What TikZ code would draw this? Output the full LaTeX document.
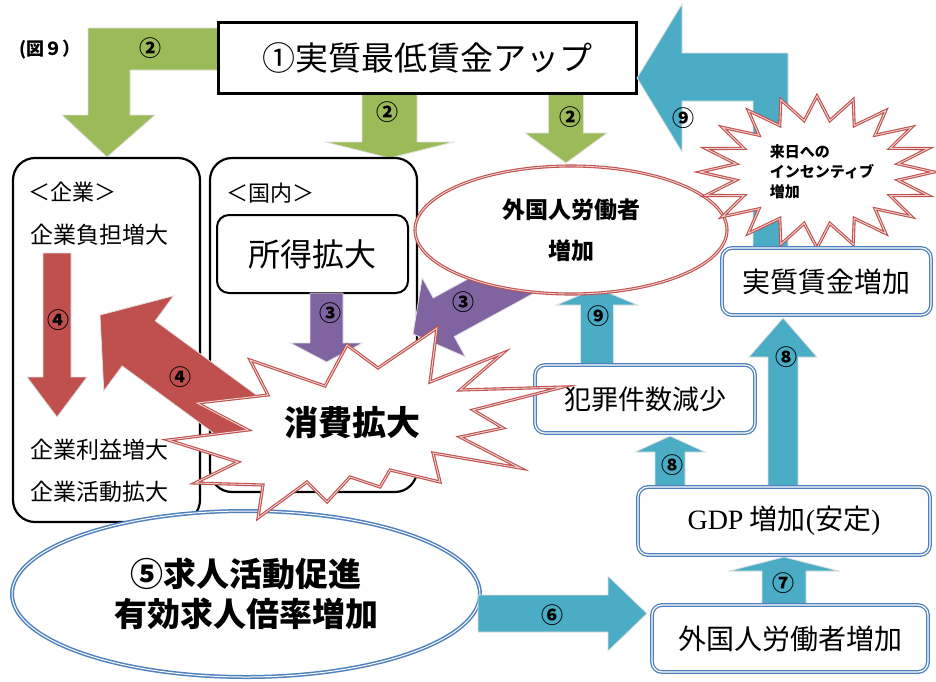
\documentclass[tikz,border=0pt]{standalone}
\usepackage{fontspec}
\setmainfont{Noto Sans CJK JP}
\newfontfamily\timesf{Liberation Serif}
\usetikzlibrary{shapes.geometric,calc}
\definecolor{wgreen}{RGB}{155,187,89}
\definecolor{wblue}{RGB}{75,172,198}
\definecolor{wred}{RGB}{192,80,77}
\definecolor{wpurple}{RGB}{128,100,162}
\definecolor{wborder}{RGB}{79,129,189}
\newcommand\fs[1]{\fontsize{#1}{#1}\selectfont}
% #1 style, #2 tail, #3 tip, #4 shaft half width, #5 head half width, #6 head length
\newcommand\blockarr[6]{%
  \coordinate (bah) at ($(#3)!#6!(#2)$);
  \filldraw[#1] ($(#2)!#4!90:(#3)$) -- ($(bah)!#4!-90:(#2)$) -- ($(bah)!#5!-90:(#2)$) -- (#3) -- ($(bah)!#5!90:(#2)$) -- ($(bah)!#4!90:(#2)$) -- ($(#2)!#4!-90:(#3)$) -- cycle;}
\begin{document}
\begin{tikzpicture}[x=1pt,y=-1pt,
  lbl/.style={font=\fs{22}\bfseries, inner sep=0pt},
  arrg/.style={fill=wgreen, draw=black!12, line width=0.8pt},
  arrb/.style={fill=wblue, draw=black!12, line width=0.8pt},
  arrr/.style={fill=wred, draw=black!12, line width=0.8pt},
  arrp/.style={fill=wpurple, draw=black!12, line width=0.8pt},
  blkbox/.style={draw=black, line width=2.2pt, rounded corners=22pt, fill=white, inner sep=0pt, outer sep=0pt},
  bluebox/.style={draw=wborder, line width=1.3pt, double=white, double distance=1.2pt, rounded corners=10pt, fill=white, inner sep=0pt},
  redline/.style={draw=wred, line width=1.1pt, double=wred!25!white, double distance=0.9pt, fill=white},
  txt/.style={inner sep=0pt, anchor=west}]
\useasboundingbox (0,0) rectangle (936,681);
\fill[white] (0,0) rectangle (936,681);

\node[font=\fs{18}\bfseries, inner sep=0pt] (fig) at (50,50) {(図９）};

% green arrows from title
\filldraw[arrg] (240,28) -- (88,28) -- (88,115) -- (62,115) -- (107,157) -- (155,115) -- (130,115) -- (130,70) -- (240,70) -- cycle;
\node[lbl] (l2a) at (150,48) {②};
\coordinate (g2t) at (389.5,90); \coordinate (g2h) at (389.5,158);
\blockarr{arrg}{g2t}{g2h}{27.5pt}{64pt}{16pt}
\node[lbl] (l2b) at (387,112) {②};
\coordinate (g3t) at (566,90); \coordinate (g3h) at (566,163);
\blockarr{arrg}{g3t}{g3h}{17.5pt}{41pt}{30pt}
\node[lbl] (l2c) at (570,117) {②};

% title
\node[draw=black, line width=3pt, fill=white, minimum width=418pt, minimum height=71pt, inner sep=0pt, font=\fs{33}] (title) at (427,57.5) {①実質最低賃金アップ};

% blue bent arrow 9
\filldraw[arrb] (637,78) -- (682,4) -- (682,53) -- (788,53) -- (788,252) -- (753,252) -- (753,101) -- (682,101) -- (682,152) -- cycle;
\node[lbl] (l9a) at (683,118) {⑨};

% boxes left
\node[blkbox, minimum width=187pt, minimum height=364pt] (kigyo) at (106.5,340) {};
\node[blkbox, minimum width=207pt, minimum height=334pt] (kokunai) at (313.5,325) {};
\node[txt, font=\fs{22}] (tk0) at (28,192) {＜企業＞};
\node[txt, font=\fs{23}] (tk1) at (30,235) {企業負担増大};
\node[txt, font=\fs{23}] (tk2) at (30,450) {企業利益増大};
\node[txt, font=\fs{23}] (tk3) at (30,492) {企業活動拡大};
\node[txt, font=\fs{22}] (tn0) at (226,193) {＜国内＞};
\node[draw=black, line width=2pt, rounded corners=12pt, fill=white, minimum width=191pt, minimum height=78pt, inner sep=0pt, font=\fs{32}] (shotoku) at (312.5,254) {所得拡大};

% red and purple arrows
\coordinate (r1t) at (57,253); \coordinate (r1h) at (57,417);
\blockarr{arrr}{r1t}{r1h}{14pt}{30pt}{40pt}
\node[lbl] (l4a) at (58,320) {④};
\coordinate (p1t) at (326.5,293); \coordinate (p1h) at (326.5,362);
\blockarr{arrp}{p1t}{p1h}{16.5pt}{36pt}{19pt}
\node[lbl] (l3a) at (330,313) {③};
\coordinate (r2t) at (284,450); \coordinate (r2h) at (100,315);
\blockarr{arrr}{r2t}{r2h}{28pt}{59pt}{48pt}
\node[lbl] (l4b) at (180,377) {④};
\coordinate (p2t) at (523,274); \coordinate (p2h) at (413,334);
\blockarr{arrp}{p2t}{p2h}{22pt}{45pt}{35pt}
\node[lbl] (l3b) at (463,302) {③};

% blue arrow 9 into ellipse
\coordinate (b9t) at (597,367); \coordinate (b9h) at (597,288);
\blockarr{arrb}{b9t}{b9h}{16.5pt}{40.5pt}{17pt}
\node[lbl] (l9b) at (598,316) {⑨};

% foreign workers ellipse
\node[ellipse, redline, minimum width=312pt, minimum height=128pt, inner sep=0pt, align=center, font=\fontsize{23}{41}\selectfont\bfseries] (gaikoku) at (571,230) {外国人労働者\\増加};

% incentive star
\filldraw[redline] plot[samples at={0,...,39}, variable=\t] ({817+ifthenelse(mod(\t,2)==0,117,82)*cos(\t*9)}, {172+ifthenelse(mod(\t,2)==0,76,52)*sin(\t*9)}) -- cycle;
\node[inner sep=0pt, align=left, font=\fontsize{15}{20}\selectfont\bfseries] (incent) at (822,172) {来日への\\インセンティブ\\増加};

% right boxes
\node[bluebox, minimum width=209pt, minimum height=67pt, font=\fs{28}] (jisshitsu) at (826.5,281.5) {実質賃金増加};
\node[bluebox, minimum width=220pt, minimum height=68pt, font=\fs{27}] (hanzai) at (645,399) {犯罪件数減少};
\coordinate (b8at) at (670,489); \coordinate (b8ah) at (670,436);
\blockarr{arrb}{b8at}{b8ah}{15pt}{35pt}{16pt}
\node[lbl] (l8a) at (672,465) {⑧};
\coordinate (b8bt) at (783,489); \coordinate (b8bh) at (783,318);
\blockarr{arrb}{b8bt}{b8bh}{15pt}{34pt}{39pt}
\node[lbl] (l8b) at (786,357) {⑧};
\coordinate (b7t) at (784,607); \coordinate (b7h) at (784,557);
\blockarr{arrb}{b7t}{b7h}{22pt}{55pt}{14pt}
\node[lbl] (l7) at (783,583) {⑦};
\node[bluebox, minimum width=292pt, minimum height=68pt, font=\fs{28}] (gdp) at (784,521) {{\timesf GDP} 増加{\timesf (}安定{\timesf )}};
\node[bluebox, minimum width=276pt, minimum height=67pt, font=\fs{28}] (gaikoku2) at (790,638.5) {外国人労働者増加};

% job ellipse
\node[ellipse, draw=wborder, line width=1.5pt, double=white, double distance=1pt, fill=white, minimum width=468pt, minimum height=166pt, inner sep=0pt, align=center, font=\fontsize{33}{40}\selectfont\bfseries] (kyujin) at (246,594) {⑤求人活動促進\\有効求人倍率増加};

% arrow 6
\coordinate (b6t) at (478,613.5); \coordinate (b6h) at (647,613.5);
\blockarr{arrb}{b6t}{b6h}{18.5pt}{37.5pt}{39pt}
\node[lbl] (l6) at (552,615) {⑥};

% consumption explosion
\filldraw[redline] (250,360) -- (325,386) -- (347,345) -- (378,368) -- (437,328) -- (430,382) -- (503,353) -- (460,390) -- (563,387) -- (473,410) -- (503,428) -- (460,437) -- (520,468) -- (433,453) -- (440,482) -- (390,470) -- (380,487) -- (350,477) -- (327,502) -- (307,482) -- (258,518) -- (263,485) -- (195,483) -- (238,462) -- (168,440) -- (248,430) -- (197,403) -- (268,395) -- cycle;
\node[inner sep=0pt, font=\fs{34}\bfseries] (shohi) at (352,423) {消費拡大};
\end{tikzpicture}
\end{document}
